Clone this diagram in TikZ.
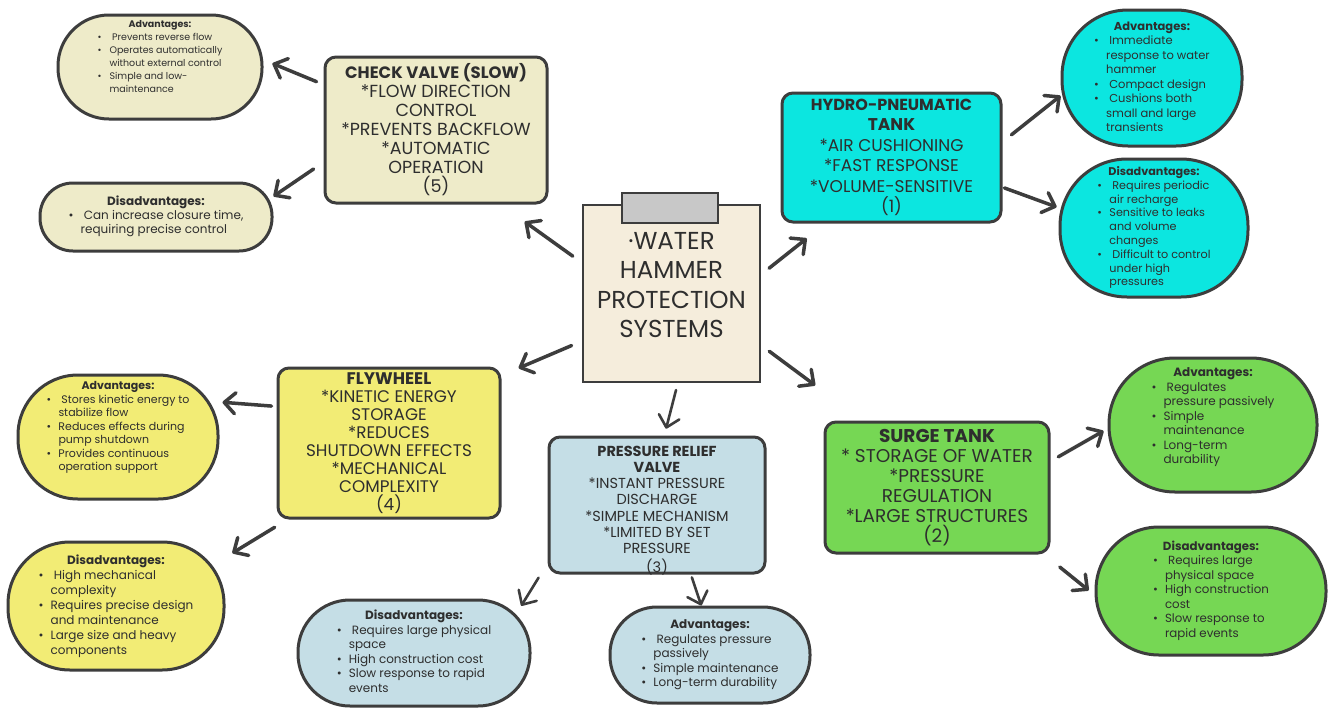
\documentclass[tikz,border=0pt]{standalone}
\usepackage{fontspec}
\setmainfont{Poppins}
\usetikzlibrary{arrows.meta}

\definecolor{edge}{HTML}{3D3D3D}
\definecolor{ink}{HTML}{2E2E2E}
\definecolor{paper}{HTML}{F5EDDC}
\definecolor{clipgray}{HTML}{C8C8C8}
\definecolor{checkfill}{HTML}{EEEBC9}
\definecolor{hydrofill}{HTML}{0CE6E0}
\definecolor{flyfill}{HTML}{F2EC75}
\definecolor{relieffill}{HTML}{C5DEE6}
\definecolor{surgefill}{HTML}{76D754}

% bullet lists inside the ovals (optional arg: extra room below the list)
\newcommand{\bul}{\makebox[12pt][l]{\textbullet}}
\newcommand{\cont}{\hspace*{12pt}}
\newcommand{\points}[3][0pt]{\begin{tabular}[b]{@{}l@{}}\multicolumn{1}{@{}c@{}}{\textbf{#2}}\\ #3\end{tabular}\rule[-#1]{0pt}{0pt}}

\begin{document}
\begin{tikzpicture}[x=1pt, y=-1pt,
    topic/.style={draw=edge, line width=3pt, rounded corners=11pt, align=center, text=ink, inner sep=2pt},
    oval/.style={draw=edge, line width=3pt, rounded corners=#1, text=ink, inner sep=0pt},
    link/.style={draw=edge, line width=3.5pt, line cap=round, -{Straight Barb[length=11pt,width=21pt,round]}},
    thin link/.style={link, line width=2.6pt}
]
    \useasboundingbox (0,0) rectangle (1328,707);
    \fill[white] (0,0) rectangle (1328,707);

    % centre clipboard
    \node[draw=edge, line width=2.5pt, fill=paper, minimum width=177pt, minimum height=177pt, text=ink, font=\fontsize{24.5}{29.5}\selectfont] (hub) at (671.5,293.5) {\begin{tabular}[b]{@{}c@{}}·WATER\\HAMMER\\PROTECTION\\SYSTEMS\end{tabular}\rule[-21pt]{0pt}{0pt}};
    \node[draw=edge, line width=2.5pt, fill=clipgray, minimum width=96pt, minimum height=30pt] (clip) at (670,208) {};

    % the five systems
    \node[topic, fill=checkfill, minimum width=222pt, minimum height=146pt, font=\fontsize{17.5}{19}\selectfont] (check) at (436,130) {\textbf{\fontsize{16.5}{19}\selectfont CHECK VALVE (SLOW)}\\{*}FLOW DIRECTION\\CONTROL\\{*}PREVENTS BACKFLOW\\{*}AUTOMATIC\\OPERATION\\(5)};
    \node[topic, fill=hydrofill, minimum width=219pt, minimum height=129pt, font=\fontsize{17}{20.5}\selectfont] (hydro) at (891.5,157.5) {\textbf{\fontsize{16}{20.5}\selectfont HYDRO-PNEUMATIC}\\\textbf{TANK}\\{*}AIR CUSHIONING\\{*}FAST RESPONSE\\{*}VOLUME-SENSITIVE\\(1)};
    \node[topic, fill=flyfill, minimum width=222pt, minimum height=150pt, font=\fontsize{16.8}{18}\selectfont] (fly) at (389,443) {\textbf{FLYWHEEL}\\{*}KINETIC ENERGY\\STORAGE\\{*}REDUCES\\SHUTDOWN EFFECTS\\{*}MECHANICAL\\COMPLEXITY\\(4)};
    \node[topic, fill=relieffill, minimum width=216pt, minimum height=136pt, font=\fontsize{14.5}{16.3}\selectfont] (relief) at (657,505) {\raisebox{-9.5pt}[60pt][60pt]{\begin{tabular}{@{}c@{}}\textbf{PRESSURE RELIEF}\\\textbf{VALVE}\\{*}INSTANT PRESSURE\\DISCHARGE\\{*}SIMPLE MECHANISM\\{*}LIMITED BY SET\\PRESSURE\\(3)\end{tabular}}};
    \node[topic, fill=surgefill, minimum width=224pt, minimum height=131pt, font=\fontsize{18.5}{20}\selectfont] (surge) at (937,487.5) {\textbf{SURGE TANK}\\{*}\ STORAGE OF WATER\\{*}PRESSURE\\REGULATION\\{*}LARGE STRUCTURES\\(2)};

    % advantages / disadvantages
    \node[oval=51pt, fill=checkfill, minimum width=204pt, minimum height=104pt, font=\fontsize{9.5}{13}\selectfont] (checkpro) at (160,67) {\points[24pt]{Advantages:}{\bul\ Prevents reverse flow\\ \bul Operates automatically\\ \cont without external control\\ \bul Simple and low-\\ \cont maintenance}};
    \node[oval=33pt, fill=checkfill, minimum width=232pt, minimum height=68pt, font=\fontsize{12}{14}\selectfont] (checkcon) at (156,217) {\points{Disadvantages:}{\bul\ Can increase closure time,\\ \cont requiring precise control}};
    \node[oval=66pt, fill=hydrofill, minimum width=180pt, minimum height=136pt, font=\fontsize{11.5}{14.5}\selectfont] (hydropro) at (1152,78) {\points{Advantages:}{\bul\ Immediate\\ \cont response to water\\ \cont hammer\\ \bul\ Compact design\\ \bul\ Cushions both\\ \cont small and large\\ \cont transients}};
    \node[oval=67pt, fill=hydrofill, minimum width=188pt, minimum height=138pt, font=\fontsize{11.2}{13.8}\selectfont] (hydrocon) at (1154,228) {\points{Disadvantages:}{\bul\ Requires periodic\\ \cont air recharge\\ \bul Sensitive to leaks\\ \cont and volume\\ \cont changes\\ \bul\ Difficult to control\\ \cont under high\\ \cont pressures}};
    \node[oval=60pt, fill=flyfill, minimum width=200pt, minimum height=124pt, font=\fontsize{11}{13.5}\selectfont] (flypro) at (118,437) {\points[23pt]{Advantages:}{\bul\ Stores kinetic energy to\\ \cont stabilize flow\\ \bul Reduces effects during\\ \cont pump shutdown\\ \bul Provides continuous\\ \cont operation support}};
    \node[oval=62pt, fill=flyfill, minimum width=216pt, minimum height=128pt, font=\fontsize{12}{15}\selectfont] (flycon) at (116,606) {\points{Disadvantages:}{\bul\ High mechanical\\ \cont complexity\\ \bul Requires precise design\\ \cont and maintenance\\ \bul Large size and heavy\\ \cont components}};
    \node[oval=52pt, fill=relieffill, minimum width=232pt, minimum height=106pt, font=\fontsize{12}{14.5}\selectfont] (reliefcon) at (414,653) {\points{Disadvantages:}{\bul\ Requires large physical\\ \cont space\\ \bul High construction cost\\ \bul Slow response to rapid\\ \cont events}};
    \node[oval=47pt, fill=relieffill, minimum width=200pt, minimum height=96pt, font=\fontsize{12}{14.5}\selectfont] (reliefpro) at (710,655) {\points{Advantages:}{\bul\ Regulates pressure\\ \cont passively\\ \bul Simple maintenance\\ \bul Long-term durability}};
    \node[oval=66pt, fill=surgefill, minimum width=208pt, minimum height=134pt, font=\fontsize{12}{14.5}\selectfont] (surgepro) at (1213,425) {\points[20pt]{Advantages:}{\bul\ Regulates\\ \cont pressure passively\\ \bul Simple\\ \cont maintenance\\ \bul Long-term\\ \cont durability}};
    \node[oval=63pt, fill=surgefill, minimum width=230pt, minimum height=128pt, font=\fontsize{11.8}{14.5}\selectfont] (surgecon) at (1211,591) {\points{Disadvantages:}{\bul\ Requires large\\ \cont physical space\\ \bul High construction\\ \cont cost\\ \bul Slow response to\\ \cont rapid events}};

    % arrows out of the centre
    \draw[link, shorten <=11pt, shorten >=29.5pt] (hub.161) -- (check.311);
    \draw[link, shorten <=10pt, shorten >=24pt] (hub.12) -- (hydro.225);
    \draw[link, shorten <=11pt, shorten >=18.6pt] (hub.208) -- (fly.31);
    \draw[thin link, shorten <=7pt, shorten >=7pt] (hub.274) -- (relief.84);
    \draw[link, shorten <=10pt, shorten >=59pt] (hub.330) -- (surge.138);

    % arrows to the ovals
    \draw[link, shorten <=7.5pt, shorten >=9.7pt] (check.158) -- (checkpro.4);
    \draw[link, shorten <=12pt] (check.196) -- (checkcon.10);
    \draw[link, shorten <=11.4pt] (hydro.8) -- (hydropro.191);
    \draw[link, shorten <=2pt, shorten >=2pt] (hydro.345) -- (hydrocon.168);
    \draw[link, shorten <=5pt, shorten >=3pt] (fly.162) -- (flypro.19);
    \draw[link, shorten <=15pt, shorten >=8pt] (fly.217) -- (flycon.24);
    \draw[thin link, shorten <=17pt, shorten >=-8.6pt] (relief.208) -- (reliefcon.26);
    \draw[thin link, shorten <=3pt] (relief.296) -- (reliefpro.100);
    \draw[link, shorten <=9pt, shorten >=4.6pt] (surge.13) -- (surgepro.182);
    \draw[link, shorten <=20pt, shorten >=7.5pt] (surge.328) -- (surgecon.182);
\end{tikzpicture}
\end{document}
